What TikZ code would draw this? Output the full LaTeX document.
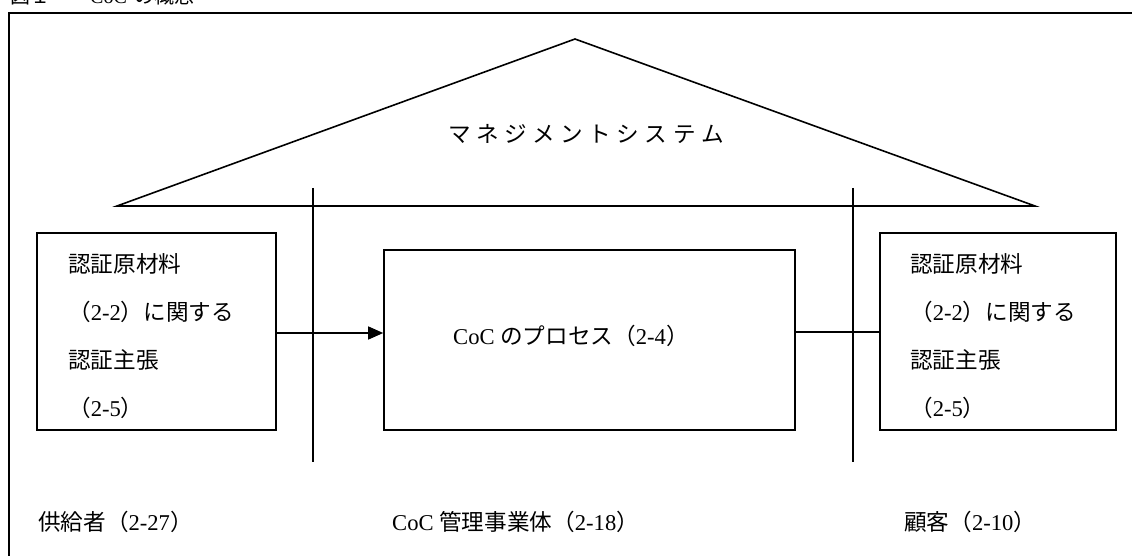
\documentclass[tikz,border=0pt]{standalone}
\usepackage{fontspec}
\setmainfont{Liberation Serif}
\newfontfamily\cjk{Noto Sans CJK JP}
\newcommand\jp[1]{{\cjk #1}}
\usetikzlibrary{arrows.meta}
\begin{document}
\begin{tikzpicture}[x=1pt,y=-1pt,
  box/.style={draw, line width=1.6pt, inner sep=0pt},
  txt/.style={font=\fontsize{22.6}{48}\selectfont, align=left, inner sep=0pt},
  thin line/.style={line width=1.2pt},
  conn/.style={line width=1.4pt},
  arr/.style={conn, -{Triangle[length=15pt,width=13pt]}}]
\useasboundingbox (0,0) rectangle (1132,556);
\clip (0,0) rectangle (1132,556);
% title (cut off at the top, as in the reference)
\node[font=\fontsize{20}{24}\selectfont, anchor=base west, inner sep=0pt] (title) at (10,4)
  {\jp{図１}\hspace{40pt}CoC\hspace{8pt}\jp{の概念}};
% outer frame (open right and bottom)
\draw[line width=1.5pt] (1140,13) -- (9,13) -- (9,560);
% roof
\draw[line width=1.6pt] (117,206) -- (575,39) -- (1035,206) -- cycle;
\node[txt, anchor=center] (ms) at (586,134)
  {\jp{マ}\hspace{5.5pt}\jp{ネ}\hspace{5.5pt}\jp{ジ}\hspace{5.5pt}\jp{メ}\hspace{5.5pt}\jp{ン}\hspace{5.5pt}\jp{ト}\hspace{5.5pt}\jp{シ}\hspace{5.5pt}\jp{ス}\hspace{5.5pt}\jp{テ}\hspace{5.5pt}\jp{ム}};
% separators
\coordinate (s1t) at (313,188); \coordinate (s1b) at (313,462);
\coordinate (s2t) at (853,188); \coordinate (s2b) at (853,462);
\draw[thin line] (s1t) -- (s1b);
\draw[thin line] (s2t) -- (s2b);
% boxes
\node[box, minimum width=239pt, minimum height=197pt] (lbox) at (156.5,331.5) {};
\node[box, minimum width=411pt, minimum height=180pt] (cbox) at (589.5,340) {};
\node[box, minimum width=236pt, minimum height=197pt] (rbox) at (998,331.5) {};
% box texts
\node[txt, anchor=west] (ltxt) at (68,336)
  {\jp{認証原材料}\\\jp{（}2-2\jp{）に関する}\\\jp{認証主張}\\\jp{（}2-5\jp{）}};
\node[txt, anchor=west] (rtxt) at (910,336)
  {\jp{認証原材料}\\\jp{（}2-2\jp{）に関する}\\\jp{認証主張}\\\jp{（}2-5\jp{）}};
\node[txt, anchor=west] (ctxt) at (453,336) {CoC \jp{のプロセス（}2-4\jp{）}};
% connectors
\coordinate (ay) at (0,333);
\coordinate (by) at (0,332);
\draw[arr] (lbox.east |- ay) -- (cbox.west |- ay);
\draw[conn] (cbox.east |- by) -- (rbox.west |- by);
% bottom labels
\node[txt, anchor=west] (sup) at (38,522) {\jp{供給者（}2-27\jp{）}};
\node[txt, anchor=west] (org) at (392,522) {CoC \jp{管理事業体（}2-18\jp{）}};
\node[txt, anchor=west] (cus) at (904,522) {\jp{顧客（}2-10\jp{）}};
\end{tikzpicture}
\end{document}
